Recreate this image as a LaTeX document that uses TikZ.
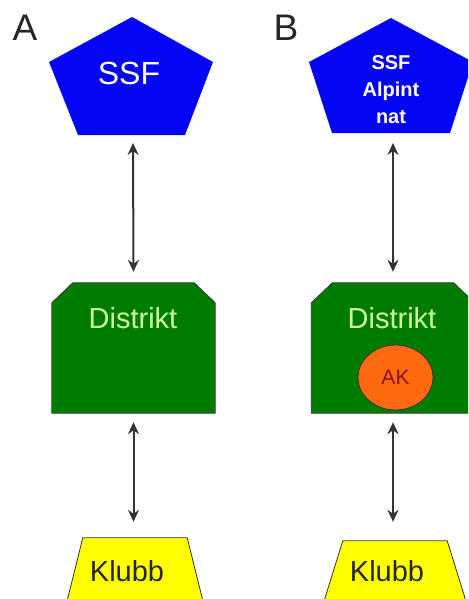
\documentclass[tikz,border=0pt]{standalone}
\usepackage{fontspec}
\setmainfont{Liberation Sans}
\usepackage{tikz}
\usetikzlibrary{shapes.geometric,arrows.meta}

\definecolor{ssfblue}{RGB}{5,5,245}
\definecolor{distgreen}{RGB}{0,125,0}
\definecolor{disttext}{RGB}{205,255,160}
\definecolor{akorange}{RGB}{255,105,15}
\definecolor{aktext}{RGB}{140,20,20}
\definecolor{klubbyellow}{RGB}{255,255,0}

\newcommand{\fs}[2]{\fontsize{#1}{#2}\selectfont}

\begin{document}
\begin{tikzpicture}[
    x=1pt,y=-1pt,
    ssf/.style={fill=ssfblue},
    box/.style={rectangle,inner sep=0pt},
    distfill/.style={fill=distgreen,draw=black!80,line width=0.8pt},
    klubbfill/.style={fill=klubbyellow,draw=black!80,line width=0.8pt},
    link/.style={{Stealth[length=12pt,width=11pt,inset=4pt]}-{Stealth[length=12pt,width=11pt,inset=4pt]},
      line width=2pt,black!80},
    panel/.style={font=\fs{37}{40},black!85}
  ]

    \useasboundingbox (0,0) rectangle (468,599);
    \clip (0,0) rectangle (468,599);

    % Panel A
    \node[panel] (lblA) at (25,28) {A};
    \fill[ssf] (132,17) -- (213,62) -- (185,135) -- (78,135) -- (49,62) -- cycle;
    \coordinate (ssfA) at (133,135);
    \node[white,font=\fs{32}{34}] (ssfAtxt) at (129,73) {SSF};

    \node[box,minimum width=163pt,minimum height=130pt] (distA) at (133.5,348) {};
    \filldraw[distfill] (distA.south west) -- ([yshift=-20pt]distA.north west)
      -- ([xshift=21pt]distA.north west) -- ([xshift=-21pt]distA.north east)
      -- ([yshift=-20pt]distA.north east) -- (distA.south east) -- cycle;
    \node[disttext,font=\fs{29}{31}] (distAtxt) at (133,318) {Distrikt};

    \node[box,minimum width=104pt,minimum height=80pt] (klubbA) at (135,578) {};
    \filldraw[klubbfill] (klubbA.north west) -- (klubbA.north east)
      -- ([xshift=20pt]klubbA.south east) -- ([xshift=-20pt]klubbA.south west) -- cycle;
    \node[black!85,font=\fs{29}{31}] (klubbAtxt) at (127,571) {Klubb};

    \draw[link,shorten <=8pt,shorten >=11pt] (ssfA) -- (distA.north);
    \draw[link,shorten <=9pt,shorten >=16pt] (distA.south) -- (distA.south |- klubbA.north);

    % Panel B
    \node[panel] (lblB) at (286,28) {B};
    \fill[ssf] (391,18) -- (473,62) -- (450,133) -- (332,133) -- (309,62) -- cycle;
    \coordinate (ssfB) at (393,133);
    \node[white,font=\bfseries\fs{20}{27},align=center] (ssfBtxt) at (391,90) {SSF\\Alpint\\nat};

    \node[box,minimum width=163pt,minimum height=130pt] (distB) at (393,348) {};
    \filldraw[distfill] (distB.south west) -- ([yshift=-20pt]distB.north west)
      -- ([xshift=21pt]distB.north west) -- ([xshift=-21pt]distB.north east)
      -- ([yshift=-20pt]distB.north east) -- (distB.south east) -- cycle;
    \node[disttext,font=\fs{29}{31}] (distBtxt) at (392,318) {Distrikt};
    \node[ellipse,fill=akorange,draw=black!80,line width=0.8pt,minimum width=75pt,minimum height=65pt,
      inner sep=0pt,text=aktext,font=\fs{21}{23}] (ak) at (395.5,377.5) {AK};

    \node[box,minimum width=104pt,minimum height=80pt] (klubbB) at (395,581) {};
    \filldraw[klubbfill] (klubbB.north west) -- (klubbB.north east)
      -- ([xshift=25pt]klubbB.south east) -- ([xshift=-25pt]klubbB.south west) -- cycle;
    \node[black!85,font=\fs{29}{31}] (klubbBtxt) at (387,571) {Klubb};

    \draw[link,shorten <=10pt,shorten >=11pt] (ssfB) -- (distB.north);
    \draw[link,shorten <=9pt,shorten >=19pt] (distB.south) -- (distB.south |- klubbB.north);

\end{tikzpicture}
\end{document}
